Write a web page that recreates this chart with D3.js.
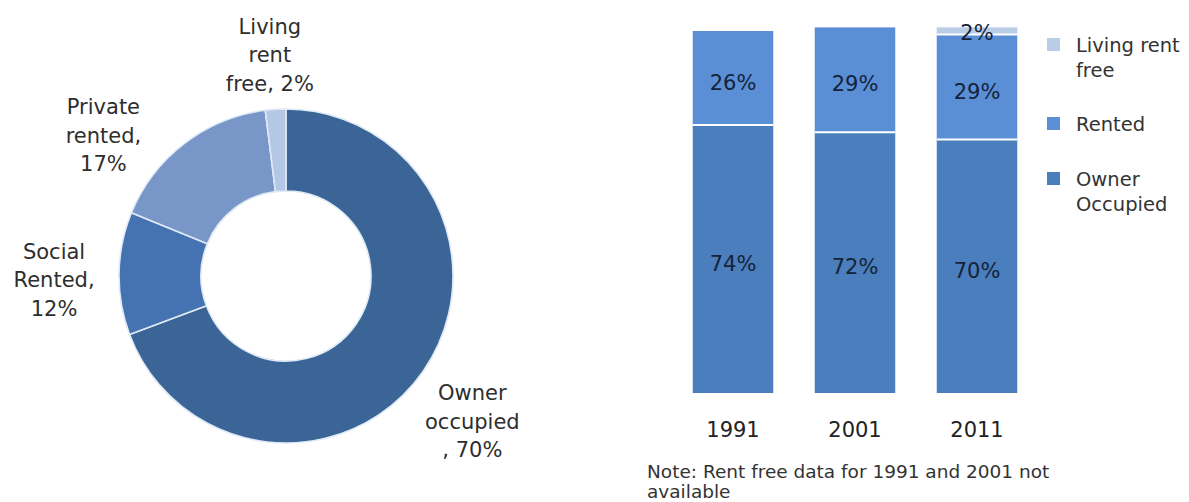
<!DOCTYPE html>
<html>
<head>
<meta charset="utf-8">
<script src="https://cdn.jsdelivr.net/npm/d3@7"></script>
<style>
  html, body { margin: 0; padding: 0; background: #ffffff; }
  svg { display: block; font-family: "DejaVu Sans", Verdana, sans-serif; }
</style>
</head>
<body>
<svg id="chart" width="1189" height="502"></svg>
<script>
// Tenure in 2011 (donut)
const tenureCategories = ["Owner occupied", "Social Rented", "Private rented", "Living rent free"];
const tenureShares = [70, 12, 17, 2];
const tenureLabelStems = ["Owner\noccupied\n, ", "Social\nRented,\n", "Private\nrented,\n", "Living\nrent\nfree, "];

// Tenure over time (stacked bars)
const years = ["1991", "2001", "2011"];
const ownerOccupied = [74, 72, 70];
const rented = [26, 29, 29];
const livingRentFree = [null, null, 2];   // not available before 2011
const seriesNames = ["Owner Occupied", "Rented", "Living rent free"];
const noteText = ["Note: Rent free data for 1991 and 2001 not", "available"];

const svg = d3.select("#chart");

// ---------- Donut ----------
const donutColors = ["#3b6597", "#4572b0", "#7996c9", "#b4c7e4"];
const cx = 286, cy = 276, rOuter = 167, rInner = 85;

const pie = d3.pie().sort(null).value(d => d.value);
const arcs = pie(tenureCategories.map((c, i) => ({ name: c, value: tenureShares[i], i })));
const arc = d3.arc().innerRadius(rInner).outerRadius(rOuter);
const labelArc = d3.arc().innerRadius(228).outerRadius(228);

const donut = svg.append("g").attr("transform", `translate(${cx},${cy})`);
donut.selectAll("path.slice")
  .data(arcs)
  .join("path")
  .attr("class", "slice")
  .attr("d", arc)
  .attr("fill", d => donutColors[d.data.i])
  .attr("stroke", "#dfeaf6")
  .attr("stroke-width", 1.6);

// label nudges away from the plain centroid placement
const labelNudge = [[-1, 15], [-4, 7], [-44, 40], [-2, 6]];
const pieFont = 21, pieLine = 28.5;
arcs.forEach(d => {
  const [lx, ly] = labelArc.centroid(d);
  const [nx, ny] = labelNudge[d.data.i];
  const lines = (tenureLabelStems[d.data.i] + d.data.value + "%").split("\n");
  const t = donut.append("text")
    .attr("text-anchor", "middle")
    .attr("font-size", pieFont)
    .attr("fill", "#2e2e2e");
  lines.forEach((s, k) => {
    t.append("tspan")
      .attr("x", lx + nx)
      .attr("y", ly + ny + (k - (lines.length - 1) / 2) * pieLine + 0.36 * pieFont)
      .text(s);
  });
});

// ---------- Stacked bars ----------
const barColors = { "Owner Occupied": "#4a7ebd", "Rented": "#5a8fd6", "Living rent free": "#bacde7" };
const rows = years.map((y, i) => ({
  year: y,
  "Owner Occupied": ownerOccupied[i],
  "Rented": rented[i],
  "Living rent free": livingRentFree[i] == null ? 0 : livingRentFree[i],
  available: livingRentFree[i] != null
}));
const stack = d3.stack().keys(seriesNames);
const layers = stack(rows);

const x = d3.scaleBand().domain(years).range([672, 1038]).paddingInner(0.34).paddingOuter(0.17);
const y = d3.scaleLinear().domain([0, 100]).range([393, 31]);

const bars = svg.append("g");
layers.forEach(layer => {
  const g = bars.append("g");
  layer.forEach(seg => {
    const v = seg[1] - seg[0];
    if (v <= 0) return;
    g.append("rect")
      .attr("x", x(seg.data.year))
      .attr("width", x.bandwidth())
      .attr("y", y(seg[1]))
      .attr("height", y(seg[0]) - y(seg[1]))
      .attr("fill", barColors[layer.key]);
  });
});
// thin white seams between stacked segments
layers.slice(1).forEach(layer => {
  layer.forEach(seg => {
    if (seg[1] - seg[0] <= 0) return;
    bars.append("line")
      .attr("x1", x(seg.data.year)).attr("x2", x(seg.data.year) + x.bandwidth())
      .attr("y1", y(seg[0])).attr("y2", y(seg[0]))
      .attr("stroke", "#ffffff").attr("stroke-width", 2);
  });
});
// value labels
const barFont = 21;
layers.forEach(layer => {
  layer.forEach(seg => {
    const v = seg[1] - seg[0];
    if (v <= 0) return;
    const mid = (y(seg[0]) + y(seg[1])) / 2;
    bars.append("text")
      .attr("x", x(seg.data.year) + x.bandwidth() / 2)
      .attr("y", mid + (v < 5 ? 0.36 * barFont + 1 : 11.5))
      .attr("text-anchor", "middle")
      .attr("font-size", barFont)
      .attr("fill", "#15233a")
      .text(v + "%");
  });
});

// year axis labels
const xAxis = d3.axisBottom(x).tickSize(0).tickPadding(0);
const axisG = svg.append("g").attr("transform", "translate(0,393)").call(xAxis);
axisG.select(".domain").remove();
axisG.selectAll("text")
  .attr("font-family", "DejaVu Sans, Verdana, sans-serif")
  .attr("font-size", 21)
  .attr("fill", "#222")
  .attr("dy", 0)
  .attr("y", 44);

// legend
const legendItems = [
  { key: "Living rent free", lines: ["Living rent", "free"], sy: 38 },
  { key: "Rented", lines: ["Rented"], sy: 117 },
  { key: "Owner Occupied", lines: ["Owner", "Occupied"], sy: 172 }
];
const legend = svg.append("g");
legendItems.forEach(it => {
  legend.append("rect")
    .attr("x", 1047).attr("y", it.sy).attr("width", 13).attr("height", 13)
    .attr("fill", barColors[it.key]);
  const t = legend.append("text").attr("font-size", 19.5).attr("fill", "#333");
  it.lines.forEach((s, k) => {
    t.append("tspan").attr("x", 1076).attr("y", it.sy + 14 + k * 25).text(s);
  });
});

// note
const note = svg.append("text").attr("font-size", 18.5).attr("fill", "#333");
noteText.forEach((s, k) => {
  note.append("tspan").attr("x", 647).attr("y", 478 + k * 20).text(s);
});
</script>
</body>
</html>
